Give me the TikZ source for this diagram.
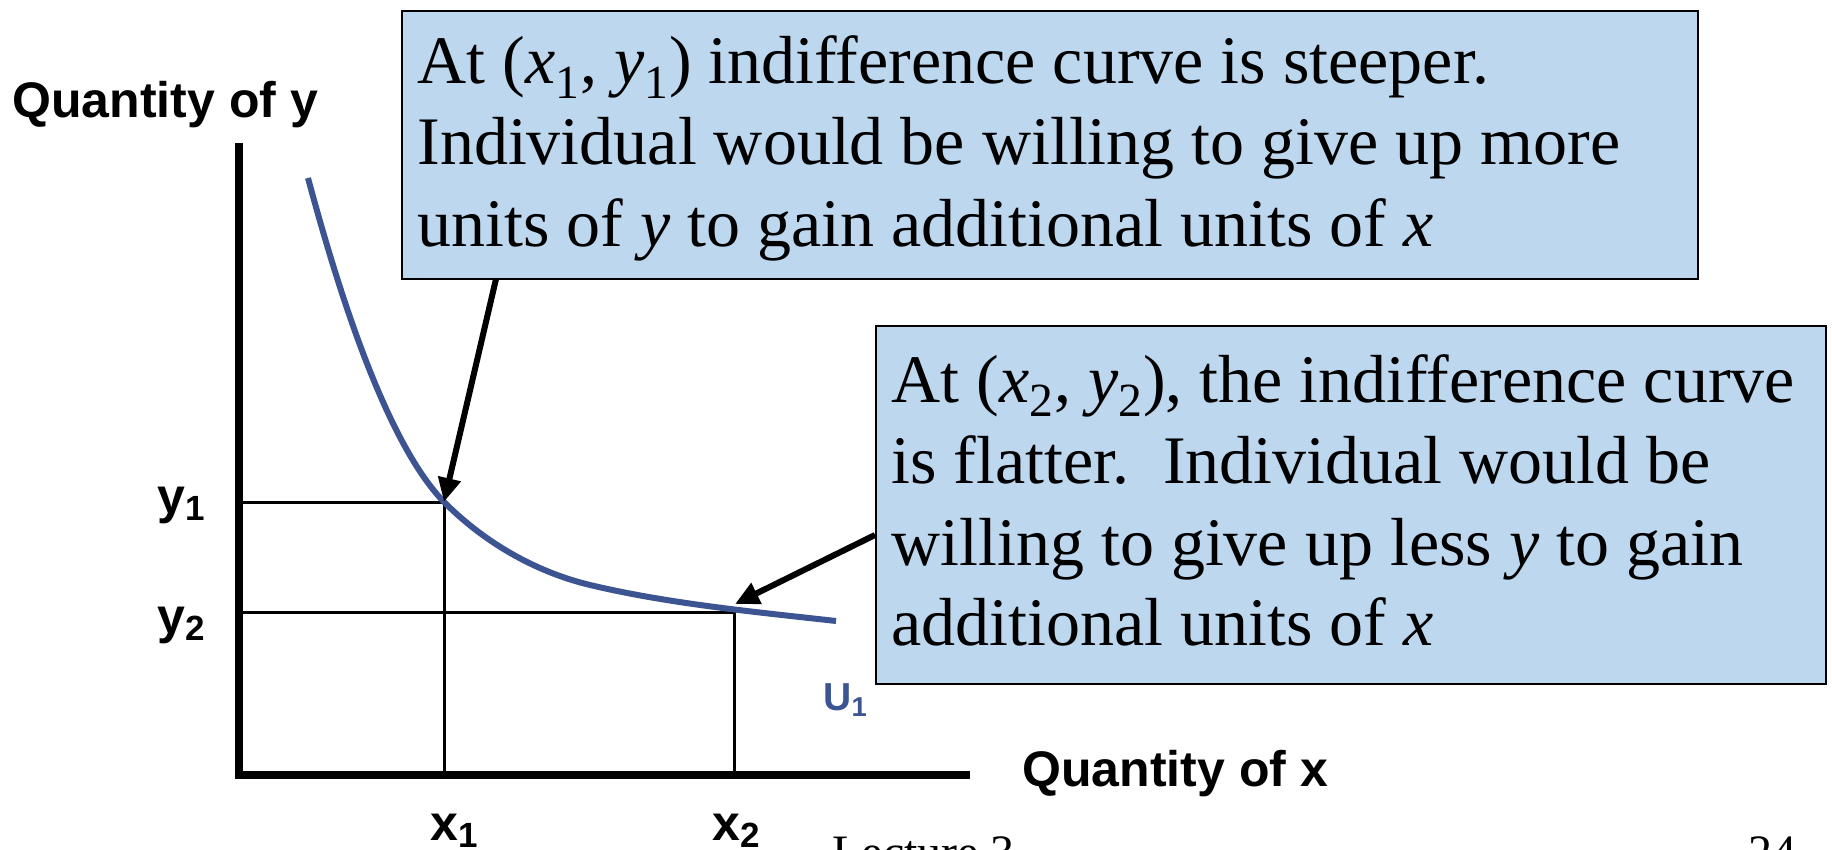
\documentclass[tikz,border=0pt]{standalone}
\usepackage{fontspec}
\setmainfont{Liberation Serif}
\setsansfont{Liberation Sans}
\usetikzlibrary{arrows.meta}
\definecolor{boxfill}{RGB}{189,215,238}
\definecolor{curveblue}{RGB}{60,84,145}
\tikzset{
  serif/.style={font=\fontsize{34}{40}\selectfont, anchor=base west, inner sep=0pt},
  lab/.style={font=\fontsize{25}{30}\selectfont\sffamily\bfseries, anchor=base west, inner sep=0pt},
  callout/.style={draw=black, line width=1pt, fill=boxfill, anchor=north west, inner sep=0pt},
  pointer/.style={line width=3pt, -{Triangle[length=12pt,width=11pt]}},
  guide/.style={line width=1.5pt},
  axis/.style={line width=4pt},
}
\newcommand{\ix}[1]{{\itshape #1}}
\begin{document}
\begin{tikzpicture}[x=0.5pt,y=-0.5pt]
\useasboundingbox (0,0) rectangle (1832,850);
% axes
\coordinate (O) at (239,775);
\coordinate (ytop) at (239,143);
\coordinate (xend) at (970,775);
\coordinate (p1) at (444,502);
\coordinate (p2) at (734,612);
\coordinate (y1a) at (239,502);
\coordinate (y2a) at (239,612);
\coordinate (x1a) at (444,775);
\coordinate (x2a) at (734,775);
\draw[guide] (y1a) -- (p1) -- (x1a);
\draw[guide] (y2a) -- (p2) -- (x2a);
\draw[axis] (ytop) -- ([yshift=-2pt]O) ;
\draw[axis] ([xshift=-2pt]O) -- (xend);
% indifference curve
\coordinate (c0) at (308,178);
\coordinate (cm) at (590,585);
\coordinate (c9) at (836,621);
\draw[curveblue, line width=3pt]
  (c0) .. controls (336,282) and (384,440) .. (p1)
       .. controls (488,546) and (540,573) .. (cm)
       .. controls (670,604) and (756,612) .. (c9);
% callout boxes
\node[callout, minimum width=648pt, minimum height=134pt] (b1) at (401,10) {};
\node[callout, minimum width=475pt, minimum height=179pt] (b2) at (875,325) {};
\node[serif] (t1a) at (417,84) {At (\ix{x}\textsubscript{1}, \ix{y}\textsubscript{1}) indifference curve is steeper.};
\node[serif] (t1b) at (417,165) {Individual would be willing to give up more};
\node[serif] (t1c) at (417,247) {units of \ix{y} to gain additional units of \ix{x}};
\node[serif] (t2a) at (891,402) {At (\ix{x}\textsubscript{2}, \ix{y}\textsubscript{2}), the indifference curve};
\node[serif] (t2b) at (891,483) {is flatter.\ \ Individual would be};
\node[serif] (t2c) at (891,565) {willing to give up less \ix{y} to gain};
\node[serif] (t2d) at (891,645) {additional units of \ix{x}};
% pointers
\coordinate (a1s) at (496,279);
\coordinate (a2s) at (875,535);
\coordinate (p2t) at (735,604);
\draw[pointer] (a1s) -- (p1);
\draw[pointer] (a2s) -- (p2t);
% labels
\node[lab] (qy) at (12,118) {Quantity of y};
\node[lab] (qx) at (1022,786) {Quantity of x};
\node[lab] (ly1) at (157,513) {y\textsubscript{1}};
\node[lab] (ly2) at (157,633) {y\textsubscript{2}};
\node[lab] (lx1) at (430,840) {x\textsubscript{1}};
\node[lab] (lx2) at (712,840) {x\textsubscript{2}};
\node[lab, font=\fontsize{19.5}{23}\selectfont\sffamily\bfseries, text=curveblue] (u1) at (823,710) {U\textsubscript{1}};
\node[serif, font=\fontsize{24}{28}\selectfont] (lec) at (832,868) {Lecture 3};
\node[serif, font=\fontsize{24}{28}\selectfont] (pg) at (1748,868) {24};
\end{tikzpicture}
\end{document}
